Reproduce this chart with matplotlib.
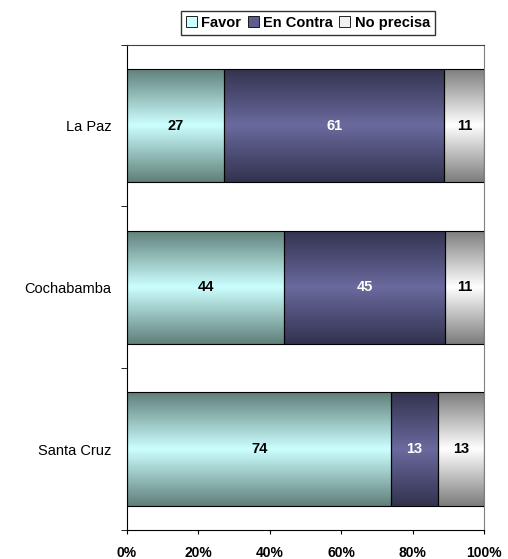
import matplotlib.pyplot as plt
import numpy as np
from matplotlib.colors import LinearSegmentedColormap
from matplotlib.patches import Patch

plt.rcParams['font.family'] = ['Liberation Sans', 'DejaVu Sans']

ciudades = ['La Paz', 'Cochabamba', 'Santa Cruz']
favor = [27, 44, 74]
en_contra = [61, 45, 13]
no_precisa = [11, 11, 13]
series = ['Favor', 'En Contra', 'No precisa']

# gradient colours: (edge, centre)
grads = [('#5f7f79', '#ccffff'), ('#32324f', '#6a6a9e'), ('#7c7c7c', '#ffffff')]
solid = ['#ccffff', '#5c5c8f', '#f0f0f0']
txt_col = ['black', 'white', 'black']

data = np.array([favor, en_contra, no_precisa], dtype=float)
pct = data / data.sum(axis=0) * 100

fig = plt.figure(figsize=(5.08, 5.59), dpi=100)
ax = fig.add_axes([0.25, 0.052, 0.703, 0.868])

ypos = np.arange(len(ciudades))[::-1]
left = np.zeros(len(ciudades))
grad = np.abs(np.linspace(-1, 1, 256))[:, None]
for i, name in enumerate(series):
    bars = ax.barh(ypos, pct[i], left=left, height=0.7, color='none',
                   edgecolor='black', linewidth=0.8, zorder=3)
    cmap = LinearSegmentedColormap.from_list(name, [grads[i][1], grads[i][0]])
    for b, v in zip(bars, data[i]):
        x0, y0 = b.get_x(), b.get_y()
        w, h = b.get_width(), b.get_height()
        im = ax.imshow(grad, cmap=cmap, aspect='auto', extent=(x0, x0 + w, y0, y0 + h),
                       zorder=2, vmin=0, vmax=1)
        im.set_clip_path(b)
        ax.text(x0 + w / 2, y0 + h / 2, '%d' % v, ha='center', va='center',
                fontsize=10.5, fontweight='bold', color=txt_col[i], zorder=4)
    left += pct[i]

ax.set_xlim(0, 100)
ax.set_ylim(-0.5, len(ciudades) - 0.5)
ax.set_xticks(np.arange(0, 101, 20))
ax.set_xticklabels(['%d%%' % t for t in range(0, 101, 20)], fontweight='bold', fontsize=10)
ax.set_yticks(ypos)
ax.set_yticklabels(ciudades, fontsize=10.5)
ax.set_yticks(np.arange(-0.5, len(ciudades), 1), minor=True)
ax.tick_params(axis='y', which='major', length=0, pad=11)
ax.tick_params(axis='y', which='minor', length=4, direction='out')
ax.tick_params(axis='x', length=3, direction='out', pad=8.5)
ax.spines['right'].set_color('#808080')
ax.spines['top'].set_color('#404040')

handles = [Patch(facecolor=solid[i], edgecolor='black', linewidth=0.6) for i in range(3)]
fig.legend(handles, series, loc='center', bbox_to_anchor=(0.606, 0.959), ncol=3,
           frameon=True, fancybox=False, edgecolor='black', handlelength=0.75, handleheight=0.75,
           handletextpad=0.3, columnspacing=0.45, borderpad=0.35,
           prop={'weight': 'bold', 'size': 10.5})

fig.savefig('out.png', dpi=100)
